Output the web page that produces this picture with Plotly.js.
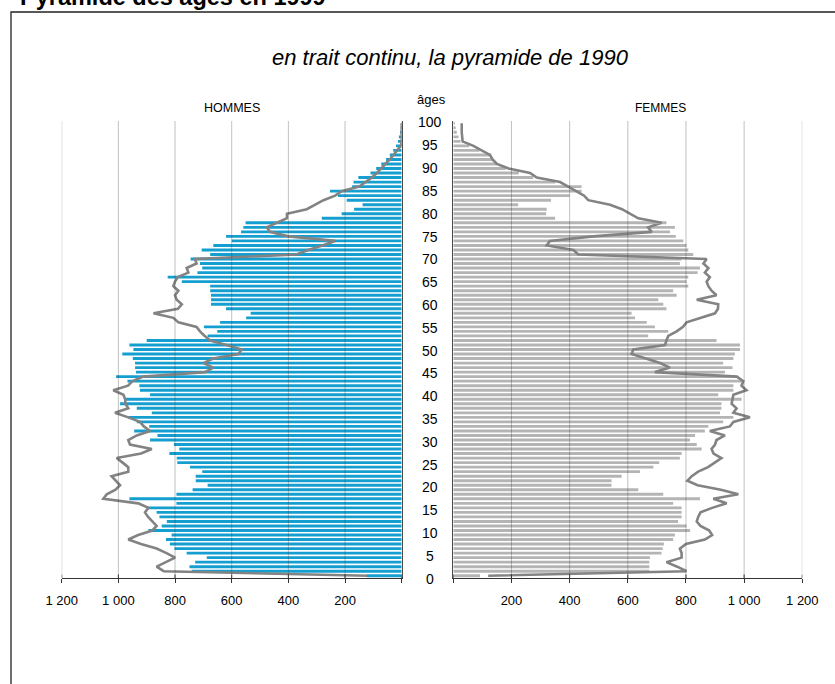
<!DOCTYPE html>
<html>
<head>
<meta charset="utf-8">
<script src="https://cdn.plot.ly/plotly-3.0.1.min.js"></script>
<style>html,body{margin:0;padding:0;background:#fff;}#chart{width:835px;height:684px;}</style>
</head>
<body>
<div id="chart"></div>
<script>
// ---- DATA ----
const ages = [0,1,2,3,4,5,6,7,8,9,10,11,12,13,14,15,16,17,18,19,20,21,22,23,24,25,26,27,28,29,30,31,32,33,34,35,36,37,38,39,40,41,42,43,44,45,46,47,48,49,50,51,52,53,54,55,56,57,58,59,60,61,62,63,64,65,66,67,68,69,70,71,72,73,74,75,76,77,78,79,80,81,82,83,84,85,86,87,88,89,90,91,92,93,94,95,96,97,98,99,100];

// Hommes 1999 (bars, thousands)
const men1999 = [
124, 741, 749, 729, 688, 759, 802, 818, 832, 812,
894, 847, 829, 855, 865, 894, 795, 961, 795, 738,
685, 727, 727, 704, 747, 792, 794, 820, 785, 804,
888, 862, 944, 891, 935, 965, 882, 935, 994, 973,
888, 924, 926, 968, 1008, 938, 941, 941, 949, 986,
947, 961, 900, 685, 651, 698, 641, 549, 533, 620,
673, 673, 673, 676, 676, 776, 826, 721, 704, 712,
745, 676, 706, 665, 600, 620, 567, 559, 551, 282,
212, 168, 138, 194, 225, 253, 175, 170, 153, 110,
90, 72, 55, 42, 30, 20, 13, 10, 6, 3,
2];

// Femmes 1999 (bars)
const women1999 = [
92, 674, 674, 674, 676, 716, 720, 724, 756, 762,
814, 802, 773, 785, 785, 785, 756, 848, 722, 636,
544, 544, 579, 642, 688, 708, 779, 785, 854, 837,
814, 831, 865, 877, 928, 963, 917, 922, 922, 991,
911, 963, 963, 991, 974, 934, 960, 928, 963, 968,
986, 986, 905, 670, 739, 693, 665, 625, 613, 733,
722, 705, 768, 756, 808, 802, 808, 840, 848, 779,
785, 825, 808, 802, 791, 765, 745, 762, 733, 350,
319, 321, 223, 336, 400, 441, 441, 350, 275, 225,
180, 150, 135, 130, 90, 55, 25, 18, 12, 8,
5];

// Hommes 1990 (line)
const men1990 = [
120, 840, 865, 830, 800, 830, 865, 920, 965, 930,
880, 865, 880, 895, 906, 894, 930, 1053, 1041, 1010,
994, 1010, 1024, 965, 965, 985, 1006, 920, 882, 959,
965, 935, 888, 910, 924, 965, 1012, 965, 975, 976,
982, 1018, 966, 950, 912, 694, 665, 700, 665, 576,
565, 618, 676, 695, 712, 724, 788, 806, 876, 790,
776, 794, 800, 788, 806, 800, 790, 753, 759, 724,
730, 372, 330, 280, 235, 400, 465, 476, 441, 405,
405, 335, 305, 276, 235, 212, 150, 128, 105, 88,
74, 58, 42, 28, 15, 3, 0, 0, 0, 0,
0];

// Femmes 1990 (line)
const women1990 = [
120, 802, 770, 733, 785, 785, 779, 800, 865, 890,
880, 850, 837, 842, 850, 890, 940, 894, 980, 920,
840, 805, 820, 842, 876, 900, 922, 895, 888, 900,
905, 934, 882, 951, 963, 1020, 963, 974, 957, 960,
963, 1008, 991, 997, 975, 693, 745, 711, 665, 613,
619, 728, 733, 739, 768, 790, 802, 850, 900, 910,
911, 837, 905, 888, 877, 871, 882, 865, 877, 860,
871, 430, 413, 321, 332, 481, 682, 670, 716, 636,
607, 580, 539, 464, 450, 420, 395, 367, 287, 264,
190, 150, 135, 126, 97, 69, 32, 30, 29, 29,
29];

const xTickVals = [0, 200, 400, 600, 800, 1000, 1200];
const xTickText = ['', '200', '400', '600', '800', '1 000', '1 200'];
const gridVals = [200, 400, 600, 800, 1000, 1200];
const ageLabels = [0,5,10,15,20,25,30,35,40,45,50,55,60,65,70,75,80,85,90,95,100];

const title = 'Pyramide des âges en 1999';
const subtitle = 'en trait continu, la pyramide de 1990';

// ---- LAYOUT HELPERS ----
const W = 835, H = 684;
const px = v => v / W;
const py = v => 1 - v / H;
const plotTop = 121, plotBottom = 578;
const FONT = 'Liberation Sans, Arial, Helvetica, sans-serif';

const traces = [
  {type:'bar', orientation:'h', x: men1999, y: ages, xaxis:'x', yaxis:'y',
   marker:{color:'#159fd0', line:{width:0}}, hoverinfo:'x+y'},
  {type:'bar', orientation:'h', x: women1999, y: ages, xaxis:'x2', yaxis:'y2',
   marker:{color:'#b4b4b4', line:{width:0}}, hoverinfo:'x+y'},
  {type:'scatter', mode:'lines', x: men1990, y: ages, xaxis:'x', yaxis:'y',
   line:{color:'#838383', width:2.6}, hoverinfo:'x+y'},
  {type:'scatter', mode:'lines', x: women1990, y: ages, xaxis:'x2', yaxis:'y2',
   line:{color:'#838383', width:2.6}, hoverinfo:'x+y'}
];

const xCommon = {
  tickvals: xTickVals, ticktext: xTickText, ticks:'outside', ticklen:4,
  tickcolor:'#333', tickwidth:1, showline:true, linecolor:'#333', linewidth:1.2,
  showgrid:false, zeroline:false, tickfont:{size:13, color:'#000', family:FONT},
  ticklabelstandoff: 6, fixedrange:true
};
const yCommon = {
  domain:[py(plotBottom), py(plotTop)], range:[-0.5, 100.5],
  showline:true, linecolor:'#4a4a4a', linewidth:1.6, showticklabels:false,
  ticks:'', showgrid:false, zeroline:false, fixedrange:true
};

const shapes = [
  {type:'rect', xref:'paper', yref:'paper', x0:px(11), x1:1.2, y0:-0.2, y1:py(12),
   line:{color:'#222', width:1.3}, fillcolor:'rgba(0,0,0,0)', layer:'below'}
];
gridVals.forEach(v => {
  ['x','x2'].forEach(ax => shapes.push({
    type:'line', xref:ax, yref:'paper', x0:v, x1:v, y0:py(plotBottom), y1:py(plotTop),
    line:{color:'rgba(50,50,50,0.3)', width:1}, layer:'above'
  }));
});
// inner half of the crossing tick marks
xTickVals.forEach(v => {
  ['x','x2'].forEach(ax => shapes.push({
    type:'line', xref:ax, yref:'paper', x0:v, x1:v, y0:py(plotBottom), y1:py(plotBottom - 3.5),
    line:{color:'#333', width:1}, layer:'above'
  }));
});

const annotations = [
  {text:'<b>'+title+'</b>', xref:'paper', yref:'paper', x:px(18), y:py(12),
   xanchor:'left', yanchor:'bottom', showarrow:false, font:{size:23.5, family:FONT, color:'#000'}},
  {text:'<i>'+subtitle+'</i>', xref:'paper', yref:'paper', x:px(451), y:py(57),
   xanchor:'center', yanchor:'middle', showarrow:false, font:{size:22, family:FONT, color:'#000'}},
  {text:'HOMMES', xref:'paper', yref:'paper', x:px(232), y:py(108),
   xanchor:'center', yanchor:'middle', showarrow:false, font:{size:12.5, family:FONT, color:'#000'}},
  {text:'FEMMES', xref:'paper', yref:'paper', x:px(660), y:py(108),
   xanchor:'center', yanchor:'middle', showarrow:false, font:{size:12, family:FONT, color:'#000'}},
  {text:'âges', xref:'paper', yref:'paper', x:px(431), y:py(100),
   xanchor:'center', yanchor:'middle', showarrow:false, font:{size:13, family:FONT, color:'#000'}}
];
ageLabels.forEach(a => {
  const ypix = 578.5 - (578.5 - 122.5) * a / 100;
  annotations.push({text:String(a), xref:'paper', yref:'paper', x:px(430), y:py(ypix),
    xanchor:'center', yanchor:'middle', showarrow:false,
    font:{size:14, family:FONT, color:'#000'}});
});

const layout = {
  width:W, height:H, margin:{l:0, r:0, t:0, b:0, pad:0},
  paper_bgcolor:'#fff', plot_bgcolor:'rgba(0,0,0,0)', showlegend:false,
  bargap:0.36, font:{family:FONT, color:'#000'},
  xaxis: Object.assign({}, xCommon, {domain:[px(61.7), px(401.7)], range:[1200, 0], anchor:'y'}),
  xaxis2: Object.assign({}, xCommon, {domain:[px(453.3), px(802.3)], range:[0, 1200], anchor:'y2'}),
  yaxis: Object.assign({}, yCommon, {anchor:'x', side:'right'}),
  yaxis2: Object.assign({}, yCommon, {anchor:'x2', side:'left'}),
  shapes: shapes, annotations: annotations
};

Plotly.newPlot('chart', traces, layout, {displayModeBar:false, staticPlot:true});
</script>
</body>
</html>
